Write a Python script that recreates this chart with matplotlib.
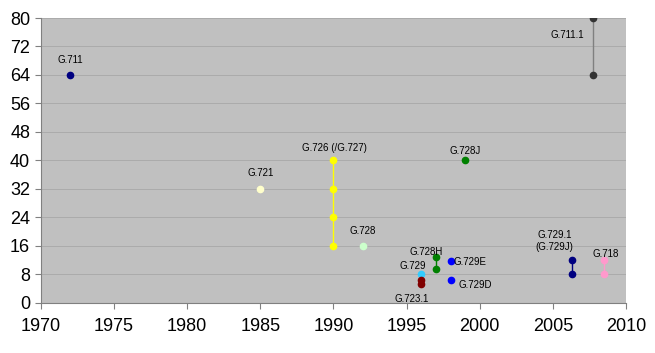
import matplotlib
matplotlib.use("Agg")
import matplotlib.pyplot as plt

plt.rcParams['font.family'] = ['Liberation Sans', 'DejaVu Sans']

# ── DATA ────────────────────────────────────────────────────────────────
# (label, year, bitrates kbps)
CODECS  = ["G.711", "G.721", "G.726 (/G.727)", "G.728", "G.728J", "G.728H",
           "G.729", "G.723.1", "G.729E", "G.729D", "G.729.1\n(G.729J)",
           "G.718", "G.711.1"]
YEARS   = [1972, 1985, 1990, 1992, 1999, 1997, 1996, 1996, 1998, 1998,
           2006.3, 2008.5, 2007.7]
RATES   = [[64], [32], [16, 24, 32, 40], [16], [40], [9.6, 12.8], [8],
           [5.3, 6.3], [11.8], [6.4], [8, 12], [8, 12], [64, 80]]

X_TICKS = list(range(1970, 2011, 5))
Y_TICKS = list(range(0, 81, 8))

# ── STYLE ───────────────────────────────────────────────────────────────
COLORS = ["#000080", "#ffffcc", "#ffff00", "#ccffcc", "#008000", "#008000",
          "#33ccff", "#800000", "#0000ff", "#0000ff", "#000080",
          "#ff99cc", "#333333"]
LINE_COLORS = {"G.726 (/G.727)": "#ffff00", "G.728H": "#008000",
               "G.723.1": "#800000", "G.729.1\n(G.729J)": "#000080",
               "G.718": "#ff99cc", "G.711.1": "#808080"}
# (anchor: index of rate, offset in points, ha)
LABEL_POS = {
    "G.711":            (0, (0, 10.8), "center"),
    "G.721":            (0, (0, 11.5), "center"),
    "G.726 (/G.727)":   (-1, (1, 8.6), "center"),
    "G.728":            (0, (0, 10.8), "center"),
    "G.728J":           (0, (0, 6.8), "center"),
    "G.728H":           (-1, (-7, 3.6), "center"),
    "G.729":            (0, (-5.8, 6.1), "center"),
    "G.723.1":          (0, (-7, -10.8), "center"),
    "G.729E":           (0, (2.5, -0.7), "left"),
    "G.729D":           (0, (6, -3.6), "left"),
    "G.729.1\n(G.729J)": (-1, (-12.7, 13.7), "center"),
    "G.718":            (-1, (0.7, 4.3), "center"),
    "G.711.1":          (-1, (-18, -12.2), "center"),
}

fig = plt.figure(figsize=(6.55, 3.53), dpi=100)
ax = fig.add_axes([0.062, 0.142, 0.894, 0.807])
ax.set_facecolor("#c0c0c0")

for name, yr, rates, col in zip(CODECS, YEARS, RATES, COLORS):
    xs = [yr] * len(rates)
    if name in LINE_COLORS:
        ax.plot(xs, rates, color=LINE_COLORS[name], lw=1, zorder=2)
    ax.plot(xs, rates, "o", color=col, ms=4.5, mec=col, zorder=3)
    idx, off, ha = LABEL_POS[name]
    ax.annotate(name, (yr, rates[idx]), xytext=off, textcoords="offset points",
                ha=ha, va="center", fontsize=7, linespacing=1.25, zorder=4)

ax.set_xlim(1970, 2010)
ax.set_ylim(0, 80)
ax.set_xticks(X_TICKS)
ax.set_yticks(Y_TICKS)
ax.tick_params(labelsize=13, colors="#808080", labelcolor="black",
               length=4, width=0.8)
ax.tick_params(axis="x", pad=7)
ax.grid(axis="y", color="#ababab", lw=0.7)
ax.set_axisbelow(True)
for s in ("top", "right"):
    ax.spines[s].set_visible(False)
for s in ("left", "bottom"):
    ax.spines[s].set_color("#808080")
    ax.spines[s].set_linewidth(0.8)

fig.savefig("out.png", dpi=100)
